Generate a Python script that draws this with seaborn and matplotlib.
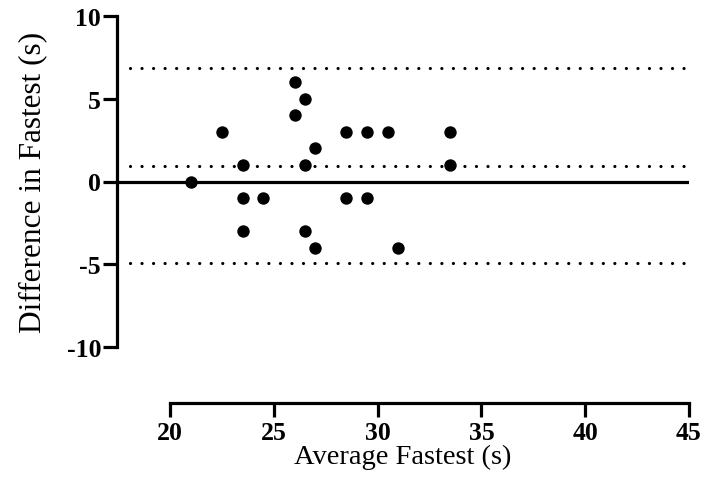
import matplotlib
matplotlib.use("Agg")
import matplotlib.pyplot as plt
import seaborn as sns
import pandas as pd

# Bland-Altman data
average_fastest = [26, 26.5, 26, 22.5, 28.5, 29.5, 30.5, 33.5, 27, 23.5, 26.5,
                   33.5, 21, 23.5, 24.5, 28.5, 29.5, 23.5, 26.5, 27, 31]
difference_fastest = [6, 5, 4, 3, 3, 3, 3, 3, 2, 1, 1,
                      1, 0, -1, -1, -1, -1, -3, -3, -4, -4]
bias = 0.95
loa_upper = 6.87
loa_lower = -4.95
x_ticks = [20, 25, 30, 35, 40, 45]
y_ticks = [-10, -5, 0, 5, 10]

df = pd.DataFrame({"avg": average_fastest, "diff": difference_fastest})

sns.set_style("ticks")
plt.rcParams["font.family"] = ["Liberation Serif", "DejaVu Serif"]
plt.rcParams["axes.unicode_minus"] = False
plt.rcParams["axes.edgecolor"] = "black"
plt.rcParams["xtick.color"] = "black"
plt.rcParams["ytick.color"] = "black"
plt.rcParams["text.color"] = "black"
plt.rcParams["axes.labelcolor"] = "black"

fig = plt.figure(figsize=(7.05, 4.81), dpi=100)
ax = fig.add_axes([117 / 705, 1 - 348 / 481, (689 - 117) / 705, (348 - 17) / 481])

ax.axhline(0, color="black", lw=2.3, zorder=1)
for y in [loa_upper, bias, loa_lower]:
    ax.plot([18.1, 45], [y, y], color="black", lw=2.3,
            linestyle=(0, (0.01, 3.6)), dash_capstyle="round", zorder=1)

sns.scatterplot(data=df, x="avg", y="diff", ax=ax, color="black",
                s=80, edgecolor="black", linewidth=0, zorder=3, clip_on=False)

ax.set_xlim(17.45, 45)
ax.set_ylim(-10, 10)
ax.set_xticks(x_ticks)
ax.set_yticks(y_ticks)

for side in ["top", "right"]:
    ax.spines[side].set_visible(False)
ax.spines["left"].set_linewidth(2.3)
ax.spines["bottom"].set_linewidth(2.3)
ax.spines["bottom"].set_bounds(20, 45)
ax.spines["bottom"].set_position(("outward", 40))
ax.tick_params(axis="both", width=2.3, length=10, labelsize=18.5)
ax.tick_params(axis="y", pad=1.5)
ax.tick_params(axis="x", pad=3)
for lab in ax.get_xticklabels() + ax.get_yticklabels():
    lab.set_fontweight("bold")

ax.set_xlabel("Average Fastest (s)", fontsize=20.5, labelpad=0.5)
ax.set_ylabel("Difference in Fastest (s)", fontsize=22.5, labelpad=14)

fig.savefig("out.png", dpi=100)
